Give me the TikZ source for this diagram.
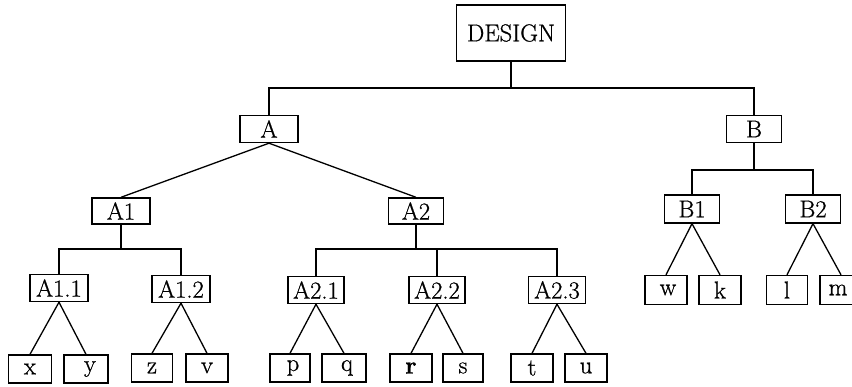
\documentclass[tikz,border=0pt]{standalone}
\usepackage{fontspec}
\setmainfont{Latin Modern Roman}[FakeBold=0.8]
\begin{document}
\begin{tikzpicture}[x=1pt,y=-1pt,
  bx/.style={draw,line width=1.4pt,inner sep=0pt,font=\fontsize{24.5}{27}\selectfont,minimum height=27pt},
  lf/.style={bx,minimum height=28pt},
  ln/.style={line width=1.3pt}]
\clip (0,0) rectangle (852,387);
\node[bx,minimum width=109pt,minimum height=56pt] (D) at (511,33) {DESIGN};
\node[bx,minimum width=58pt] (A) at (269,129) {A};
\node[bx,minimum width=55pt] (B) at (754,129) {B};
\node[bx,minimum width=58pt,minimum height=26pt] (A1) at (121,211) {A1};
\node[bx,minimum width=55pt,minimum height=26pt] (A2) at (416,211) {A2};
\node[bx,minimum width=55pt,minimum height=28pt] (B1) at (692,209) {B1};
\node[bx,minimum width=55pt,minimum height=28pt] (B2) at (813,209) {B2};
\node[bx,minimum width=58pt] (A11) at (59,288) {A1.1};
\node[bx,minimum width=58pt] (A12) at (181,289) {A1.2};
\node[bx,minimum width=56pt] (A21) at (316,290) {A2.1};
\node[bx,minimum width=56pt] (A22) at (437,290) {A2.2};
\node[bx,minimum width=57pt] (A23) at (557,290) {A2.3};
\node[lf,minimum width=43pt] (x) at (30,369) {x};
\node[lf,minimum width=44pt] (y) at (86,369) {\hspace*{8pt}y};
\node[lf,minimum width=41pt] (z) at (152,368) {z};
\node[lf,minimum width=42pt] (v) at (207,368) {v};
\node[lf,minimum width=40pt] (p) at (290,368) {\hspace*{6pt}p};
\node[lf,minimum width=44pt] (q) at (344,368) {\hspace*{6pt}q};
\node[lf,minimum width=42pt] (r) at (411,368) {\textbf{r}};
\node[lf,minimum width=40pt] (s) at (463,368) {s};
\node[lf,minimum width=42pt] (t) at (532,368) {t};
\node[lf,minimum width=42pt] (u) at (586,368) {u};
\node[lf,minimum width=42pt,minimum height=29pt] (w) at (666,290) {\hspace*{4pt}w};
\node[lf,minimum width=42pt,minimum height=29pt] (k) at (720,290) {k};
\node[lf,minimum width=41pt,minimum height=29pt] (l) at (787,290) {l};
\node[lf,minimum width=42pt,minimum height=29pt] (m) at (841,290) {\hspace*{-6pt}m};
\coordinate (dj) at (511,88);
\coordinate (a1j) at (121,249);
\coordinate (a2j) at (416,249);
\coordinate (bj) at (754,170);
\draw[ln] (D) -- (dj);
\draw[ln] (A.north) |- (dj) -| (B.north);
\draw[ln] (A.south) -- (A1.north);
\draw[ln] (A.south) -- (A2.north);
\draw[ln] (A1) -- (a1j);
\draw[ln] (A11.north) |- (a1j) -| (A12.north);
\draw[ln] (A2) -- (a2j);
\draw[ln] (A21.north) |- (a2j) -| (A23.north);
\draw[ln] (A22.north) -- (A22.north |- a2j);
\draw[ln] (B) -- (bj);
\draw[ln] (B1.north) |- (bj) -| (B2.north);
\foreach \p/\a/\b in {A11/x/y,A12/z/v,A21/p/q,A22/r/s,A23/t/u,B1/w/k,B2/l/m}{
  \draw[ln] (\p.south) -- (\a.north);
  \draw[ln] (\p.south) -- (\b.north);
}
\end{tikzpicture}
\end{document}
